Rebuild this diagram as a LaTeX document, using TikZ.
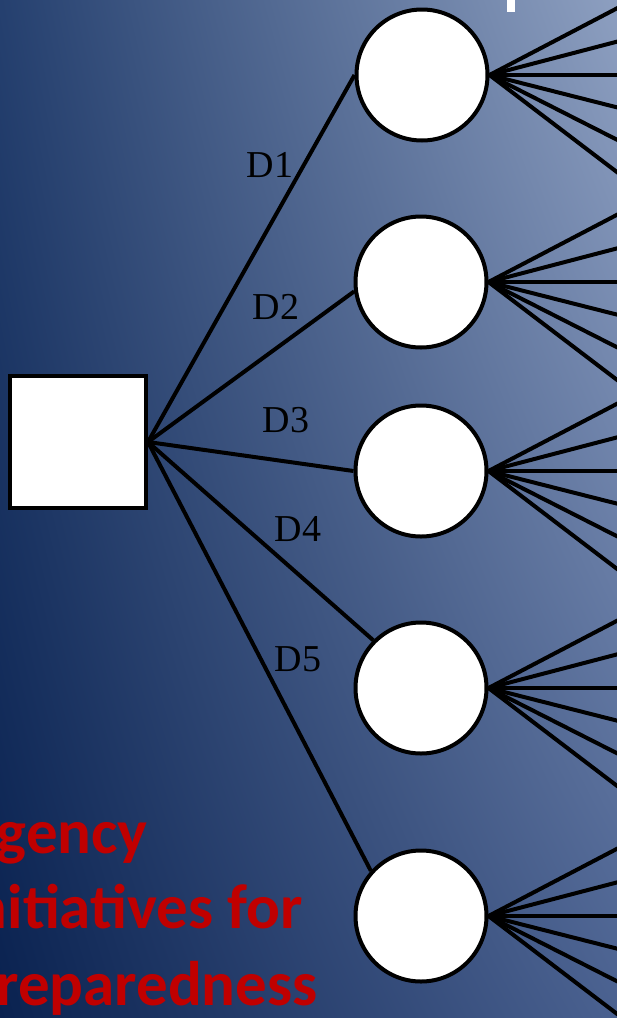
\documentclass[tikz,border=0pt]{standalone}
\usepackage{fontspec}
\setmainfont{Liberation Serif}
\newfontfamily\slidefont{Carlito}
\usepackage{tikz}
\usetikzlibrary{calc, shadings}
\definecolor{bgul}{HTML}{25406F}
\definecolor{bgur}{HTML}{8D9FC0}
\definecolor{bgll}{HTML}{0A2250}
\definecolor{bglr}{HTML}{4A6190}
\definecolor{slidered}{HTML}{C00000}
\tikzset{branch/.style={draw=black, line width=4pt}}
\tikzset{decision/.style={shape=rectangle, draw, fill=white, line width=4pt,
    minimum width=136pt, minimum height=132pt, inner sep=0pt}}
\tikzset{chance/.style={shape=circle, draw, fill=white, line width=4pt,
    minimum size=131pt, inner sep=0pt}}
\tikzset{dlabel/.style={font=\fontsize{38}{38}\selectfont, inner sep=0pt}}
\tikzset{redtext/.style={font=\slidefont\bfseries\fontsize{63}{63}\selectfont,
    text=slidered, inner sep=0pt, anchor=base east}}

\begin{document}
\begin{tikzpicture}[x=1pt, y=-1pt]
      \useasboundingbox (0,0) rectangle (617,1018);
      \shade[upper left=bgul, upper right=bgur, lower left=bgll, lower right=bglr]
          (0,0) rectangle (617,1018);
      \fill[white] (507,0) rectangle (515,12);
      % red title text, cut at the left edge
      \node[redtext] (t1) at (148,853) {gency};
      \node[redtext] (t2) at (303,928) {nitiatives for};
      \node[redtext] (t3) at (318,1005) {reparedness};
      % decision and chance nodes
      \node[decision] (root) at (78,442) {};
      \node[chance] (c1) at (422,75) {};
      \node[chance] (c2) at (421,282) {};
      \node[chance] (c3) at (421,471) {};
      \node[chance] (c4) at (421,688) {};
      \node[chance] (c5) at (421,916) {};
      \path[branch] (root.east) edge (c1.west);
      \path[branch] (root.east) edge (c2.188);
      \path[branch] (root.east) edge (c3.west);
      \path[branch] (root.east) edge (c4.135);
      \path[branch] (root.east) edge (c5.138);
      \node[dlabel] (d1) at (270,165) {D1};
      \node[dlabel] (d2) at (276,307) {D2};
      \node[dlabel] (d3) at (286,420) {D3};
      \node[dlabel] (d4) at (298,529) {D4};
      \node[dlabel] (d5) at (298,659) {D5};
      % outcome fans
      \foreach \c in {c1,c2,c3,c4,c5} {
        \foreach \dy [count=\i] in {-68,-34,0,33,66,99} {
          \coordinate (\c-\i) at ($(\c.east)+(130,\dy)$);
          \path[branch] (\c.east) edge (\c-\i);
        }
      }
    \end{tikzpicture}
\end{document}
